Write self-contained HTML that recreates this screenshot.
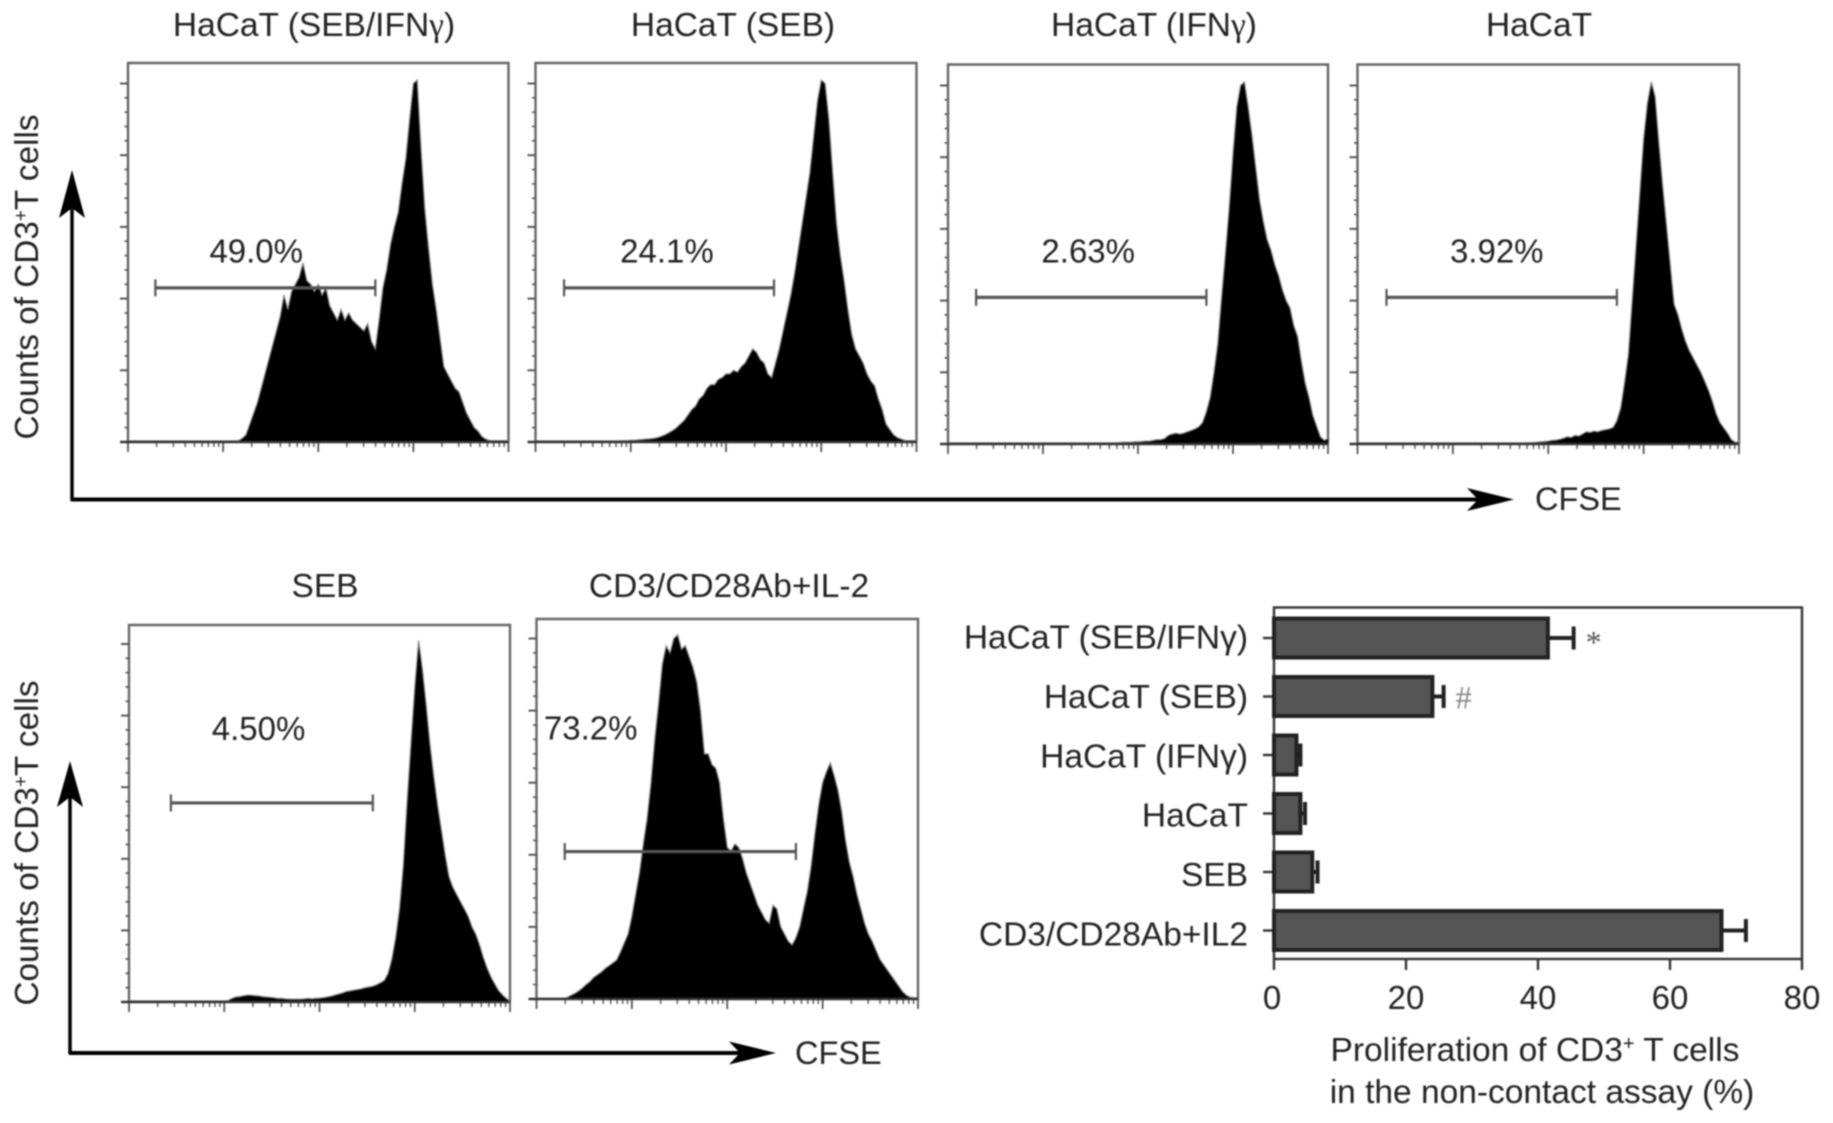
<!DOCTYPE html>
<html lang="en">
<head>
<meta charset="utf-8">
<title>CFSE proliferation histograms</title>
<style>
html,body{margin:0;padding:0;background:#fff;}
body{width:1833px;height:1123px;overflow:hidden;}
svg{display:block;filter:blur(0.7px);}
text{font-family:"Liberation Sans",sans-serif;fill:#222;font-size:33.500px;}
.serif{font-family:"Liberation Serif",serif;}
</style>
</head>
<body>
<svg id="figure" xmlns="http://www.w3.org/2000/svg" width="1833" height="1123" viewBox="0 0 1833 1123">
  <rect x="0" y="0" width="1833" height="1123" fill="#fff"/>
  <g stroke="#000" fill="#000">
    <line x1="72" y1="501" x2="72" y2="190" stroke-width="3.5"/>
    <polygon points="72,170 85,218 72,208 59,218" stroke="none"/>
    <line x1="71" y1="499.500" x2="1490" y2="499.500" stroke-width="4"/>
    <polygon points="1514,499.500 1467,488 1478,499.500 1467,511" stroke="none"/>
  </g>
  <g stroke="#000" fill="#000">
    <line x1="70" y1="1054" x2="70" y2="780" stroke-width="3.5"/>
    <polygon points="70,761 83,807 70,797 57,807" stroke="none"/>
    <line x1="69" y1="1053" x2="750" y2="1053" stroke-width="4"/>
    <polygon points="776,1053 729,1041.500 740,1053 729,1064.500" stroke="none"/>
  </g>
  <text transform="translate(38,277) rotate(-90)" text-anchor="middle" style="font-size:33.300px">Counts of CD3<tspan dy="-11" style="font-size:19px">+</tspan><tspan dy="11">T cells</tspan></text>
  <text transform="translate(38,843) rotate(-90)" text-anchor="middle" style="font-size:33.300px">Counts of CD3<tspan dy="-11" style="font-size:19px">+</tspan><tspan dy="11">T cells</tspan></text>
  <text x="1535" y="510" style="font-size:32.500px">CFSE</text>
  <text x="795" y="1064" style="font-size:32.500px">CFSE</text>
  <text x="314" y="36" text-anchor="middle">HaCaT (SEB/IFN<tspan class="serif">γ</tspan>)</text>
  <text x="733" y="36" text-anchor="middle">HaCaT (SEB)</text>
  <text x="1154" y="36" text-anchor="middle">HaCaT (IFN<tspan class="serif">γ</tspan>)</text>
  <text x="1539" y="36" text-anchor="middle">HaCaT</text>
  <text x="325" y="597" text-anchor="middle">SEB</text>
  <text x="729" y="597" text-anchor="middle">CD3/CD28Ab+IL-2</text>
  <g id="histograms"></g>
  <g id="barChart"></g>
  <text x="1535" y="1061" text-anchor="middle">Proliferation of CD3<tspan dy="-11" style="font-size:20px">+</tspan><tspan dy="11"> T cells</tspan></text>
  <text x="1542" y="1103" text-anchor="middle">in the non-contact assay (%)</text>
</svg>
<script>
// ---------- histogram data: percent of peak for each CFSE channel (0-100) ----------
const countsHacatSebIfn = [
 .3,.3,.3,.3,.3,.3,.3,.3,.3,.3,
 .3,.3,.3,.3,.3,.3,.3,.3,.3,.3,
 .3,.3,.3,.3,.3,.3,.3,.3,.3,.4,
 1,2,5,8,11,15,19,23,27,31,
 35,41,37,42,44,46,50,45,44,42,
 44,41,43,38,36,34,37,34,36,34,
 33,32,31,33,28,26,34,43,48,55,
 60,64,72,79,90,100,101,82,65,54,
 44,37,29,21,19,17,15,14,11,8,
 6,4,3,1.5,.8,.4,.4,.4,.4,.4,.4];
const countsHacatSeb = [
 .3,.3,.3,.3,.3,.3,.3,.3,.3,.3,
 .3,.3,.3,.3,.3,.3,.3,.3,.3,.3,
 .3,.3,.3,.4,.4,.5,.5,.6,.7,.8,
 .9,1,1.2,1.6,2,2.6,3.2,4,5,6,
 7.5,9,10,12,13,15,16,16,17.5,18,
 19,19,20,19.5,21,22,24,26,25,23,
 22,19,18,22,26,31,36,41,47,54,
 61,68,75,85,95,101,100,90,75,61,
 52,45,37,30,26,24,22,19,17,15.7,
 12,9,5,3.5,2,1.2,.8,.4,.4,.4,.4];
const countsHacatIfn = [
 .3,.3,.3,.3,.3,.3,.3,.3,.3,.3,
 .3,.3,.3,.3,.3,.3,.3,.3,.3,.3,
 .3,.3,.3,.3,.3,.3,.3,.3,.3,.3,
 .3,.3,.3,.3,.3,.3,.3,.3,.3,.3,
 .3,.3,.3,.3,.3,.4,.5,.5,.5,.6,
 .6,.7,.8,.8,1,1.2,1.2,1.5,2.4,2.8,
 3,2.8,3,3.4,3.8,4.2,4.8,6,9,13,
 20,28,41,53,66,81,94,100,101,94,
 86,77,68,62,57,54,50,47,43,40,
 38,33,30,23,17,13,8,5,2,1,1.5];
const countsHacat = [
 .3,.3,.3,.3,.3,.3,.3,.3,.3,.3,
 .3,.3,.3,.3,.3,.3,.3,.3,.3,.3,
 .3,.3,.3,.3,.3,.3,.3,.3,.3,.3,
 .3,.3,.3,.3,.3,.3,.3,.3,.3,.3,
 .3,.3,.3,.3,.3,.4,.4,.5,.6,.7,
 .8,1,1.1,1.3,1.6,2,1.8,2.4,2.2,2.8,
 3.4,3.2,3.6,3.4,3.8,4,4.2,4.6,6.5,10,
 17,25,40,55,70,85,95,101,97,84,
 72,61,50,39,36,32,28.6,26,24,22,
 20,17.5,15,12,8.5,6,4.5,3,1.2,.5,.5];
const countsSeb = [
 .3,.3,.3,.3,.3,.3,.3,.3,.3,.3,
 .3,.3,.3,.3,.3,.3,.3,.3,.3,.3,
 .3,.3,.3,.3,.3,.3,.4,1,1.4,1.5,
 1.7,1.9,1.9,1.8,1.7,1.5,1.4,1.3,1.2,1,
 1,.9,.8,.8,.8,.8,.9,1,.9,1,
 1.1,1.2,1.4,1.6,1.9,2.2,2.5,2.9,3.1,3.3,
 3.5,3.7,4,4.2,4.4,4.8,5.4,6,8,12,
 18,26,38,56,72,88,101,93,83,72,
 63,55,48,41,35,32,30,28,26,24,
 21,19,16,12.5,9.5,7,5,3.2,2,1,.3];
const countsCd3Cd28 = [
 .2,.2,.2,.2,.2,.2,.2,.2,.4,1,
 1.5,2.2,3,4,4.8,6,6.7,7.5,8.5,9.2,
 10,10.8,13,15.5,18,23,29,35,43,50,
 60,72,82,93,98,96,100,101,97,98,
 95,92,88,80,68,68,65,64,60,50,
 42,41,43,42,39,35,32,29,26,24,
 22,21,26,25,20,18,16,15,17,20,
 25,30,37,46,54,60,63,65.5,62,58,
 52,44,38,34,29,25,21,18,16,13.5,
 11,9.5,8,6.5,5,3.5,2,1,.5,.3,.3];

const yMajorTicks = [0,20,40,60,80,100];
const yMinorTicks = [4,8,12,16,24,28,32,36,44,48,52,56,64,68,72,76,84,88,92,96];
const xDecades = [0,1,2,3,4];
const xMinorMultipliers = [2,3,4,5,6,7,8,9];

// ---------- bar chart data ----------
const barCategories = ["HaCaT (SEB/IFNγ)","HaCaT (SEB)","HaCaT (IFNγ)","HaCaT","SEB","CD3/CD28Ab+IL2"];
const barMeans = [41.5,24,3.4,4,5.8,67.8];
const barErrorTops = [45.4,25.7,4,4.7,6.6,71.5];
const barMarks = ["*","#","","","",""];
const barXTicks = [0,20,40,60,80];

const SVGNS = "http://www.w3.org/2000/svg";
function mk(parent, tag, attrs){
  const el = document.createElementNS(SVGNS, tag);
  for(const k in attrs){ el.setAttribute(k, attrs[k]); }
  parent.appendChild(el);
  return el;
}

function drawPanel(slug, counts, box, gate, label){
  const root = document.getElementById("histograms");
  const g = mk(root, "g", {});
  
  
  const xs = v => box.left + (box.right - box.left) * v / 100;
  const ys = v => box.base - (box.base - box.peak) * v / 100;

  const frame = mk(g, "path", {d:`M${box.left} ${box.base}V${box.top}H${box.right}V${box.base}`, fill:"none", stroke:"#666", "stroke-width":2.4});
  
  

  const ticks = mk(g, "g", {stroke:"#555", fill:"none"});
  
  
  yMajorTicks.forEach(t => mk(ticks, "line", {x1:box.left-8, x2:box.left, y1:ys(t), y2:ys(t), "stroke-width":2}));
  yMinorTicks.forEach(t => mk(ticks, "line", {x1:box.left-3.500, x2:box.left, y1:ys(t), y2:ys(t), "stroke-width":1.6}));
  xDecades.forEach(d => {
    const x = xs(d * 25);
    mk(ticks, "line", {x1:x, x2:x, y1:box.base, y2:box.base+10, "stroke-width":1.8});
    if(d < 4){
      xMinorMultipliers.forEach(m => {
        const xm = xs((d + Math.log10(m)) * 25);
        mk(ticks, "line", {x1:xm, x2:xm, y1:box.base, y2:box.base+5, "stroke-width":1.4});
      });
    }
  });

  const pts = counts.map((c,i) => xs(i * 100 / (counts.length - 1)).toFixed(1) + "," + ys(c).toFixed(1));
  const area = mk(g, "polygon", {points: xs(0)+","+ys(0)+" "+pts.join(" ")+" "+xs(100)+","+ys(0), fill:"#000"});
  
  
  const outline = mk(g, "polyline", {points: pts.join(" "), fill:"none", stroke:"#8a8a8a", "stroke-width":1.2});
  
  
  const baseLine = mk(g, "line", {x1:box.left-8, x2:box.right, y1:ys(0), y2:ys(0), stroke:"#333", "stroke-width":2.4});
  
  

  const gateG = mk(g, "g", {stroke:"#555", fill:"none"});
  
  
  const gy = ys(gate.level);
  mk(gateG, "line", {x1:xs(gate.from), x2:xs(gate.to), y1:gy, y2:gy, "stroke-width":3.2});
  mk(gateG, "line", {x1:xs(gate.from), x2:xs(gate.from), y1:gy-8.500, y2:gy+8.500, "stroke-width":2.2});
  mk(gateG, "line", {x1:xs(gate.to), x2:xs(gate.to), y1:gy-8.500, y2:gy+8.500, "stroke-width":2.2});

  const txt = mk(g, "text", {x:xs(label.x), y:ys(label.y)+10, "text-anchor":"middle"});
  
  
  txt.style.fontSize = "33px";
  txt.textContent = label.text;
}

drawPanel("hacat-seb-ifng", countsHacatSebIfn, {left:128,right:508.500,top:63,base:442,peak:83.500}, {from:7.200,to:65,level:43}, {x:33.700,y:52.800,text:"49.0%"});
drawPanel("hacat-seb", countsHacatSeb, {left:535.500,right:916.500,top:63,base:442,peak:83.500}, {from:7.500,to:62.600,level:43}, {x:34.500,y:52.800,text:"24.1%"});
drawPanel("hacat-ifng", countsHacatIfn, {left:948,right:1328,top:64.500,base:444,peak:85.500}, {from:7.400,to:68,level:40.900}, {x:36.900,y:53.400,text:"2.63%"});
drawPanel("hacat", countsHacat, {left:1357.500,right:1739,top:64.500,base:444,peak:85.500}, {from:7.600,to:68,level:40.900}, {x:36.500,y:53.400,text:"3.92%"});
drawPanel("seb", countsSeb, {left:129,right:510,top:625,base:1002,peak:644}, {from:11,to:64,level:55.600}, {x:34,y:76,text:"4.50%"});
drawPanel("cd3-cd28", countsCd3Cd28, {left:536.500,right:918,top:619,base:999,peak:638.500}, {from:7.400,to:68,level:40.900}, {x:14.200,y:74.700,text:"73.2%"});

// ---------- bar chart ----------
(function(){
  const root = document.getElementById("barChart");
  const plot = {left:1274,right:1802,top:607.500,bottom:959,axisMax:80};
  const bx = v => plot.left + (plot.right - plot.left) * v / plot.axisMax;
  const rowTop = 609.500, rowStep = 58.500, barH = 41;
  const by = i => rowTop + 28.500 + i * rowStep;
  const labelY = i => 648.500 + i * 59.400;

  const frame = mk(root, "rect", {x:plot.left,y:plot.top,width:plot.right-plot.left,height:plot.bottom-plot.top,fill:"none",stroke:"#333","stroke-width":2.4});
  
  

  barXTicks.forEach(t => {
    const tick = mk(root, "line", {x1:bx(t),x2:bx(t),y1:plot.bottom,y2:plot.bottom+11,stroke:"#333","stroke-width":2.4});
    
    
    const lab = mk(root, "text", {x:bx(t) - (t === 0 ? 2 : 0),y:1009,"text-anchor":"middle"});
    
    
    lab.style.fontSize = "33px";
    lab.textContent = String(t);
  });

  barCategories.forEach((name,i) => {
    const cy = by(i);
    const tick = mk(root, "line", {x1:plot.left-11,x2:plot.left,y1:cy,y2:cy,stroke:"#333","stroke-width":2.4});
    
    
    const lab = mk(root, "text", {x:1248,y:labelY(i),"text-anchor":"end"});
    
    
    lab.textContent = name;

    const err = mk(root, "g", {stroke:"#222",fill:"none"});
    
    
    mk(err, "line", {x1:bx(barMeans[i]),x2:bx(barErrorTops[i]),y1:cy,y2:cy,"stroke-width":4});
    mk(err, "line", {x1:bx(barErrorTops[i]),x2:bx(barErrorTops[i]),y1:cy-11.500,y2:cy+11.500,"stroke-width":4});

    const bar = mk(root, "rect", {x:bx(0),y:cy-barH/2+1,width:bx(barMeans[i])-bx(0),height:barH-2,fill:"#555",stroke:"#222","stroke-width":4});
    
    

    if(barMarks[i]){
      const mark = mk(root, "text", {x:bx(barErrorTops[i])+(barMarks[i]==="*"?20:20),y:cy+(barMarks[i]==="*"?15:12),"text-anchor":"middle",class:"serif"});
      
      
      mark.style.fontSize = barMarks[i]==="*" ? "32px" : "33px";
      mark.style.fill = barMarks[i]==="*" ? "#555" : "#888";
      mark.textContent = barMarks[i];
    }
  });
})();
</script>
</body>
</html>
